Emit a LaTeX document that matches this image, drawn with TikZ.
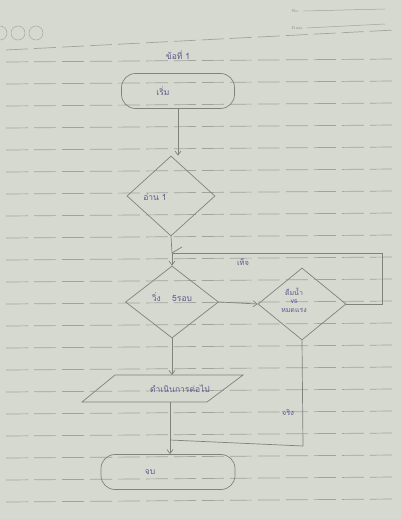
\documentclass[tikz,border=0pt]{standalone}
\usepackage{fontspec}
\newfontfamily\thaifont[Script=Thai]{Loma}
\usetikzlibrary{shapes.geometric,arrows.meta}
\definecolor{paper}{RGB}{214,217,208}
\definecolor{rule}{RGB}{160,164,156}
\definecolor{pencil}{RGB}{128,130,126}
\definecolor{ink}{RGB}{88,92,140}
\begin{document}
\begin{tikzpicture}[x=1pt,y=-1pt,
  flow/.style={draw=pencil,line width=0.7pt},
  arr/.style={flow,-{Straight Barb[length=4pt,width=6pt]}},
  term/.style={draw=pencil,line width=0.7pt,rounded corners=14pt,minimum height=35pt},
  dec/.style={draw=pencil,line width=0.7pt,diamond,aspect=1.2,inner sep=0pt},
  txt/.style={text=ink,font=\thaifont\fontsize{8.5}{9.5}\selectfont,inner sep=1pt},
  lbl/.style={text=ink,font=\thaifont\fontsize{7.5}{8.5}\selectfont,inner sep=1pt}]
\useasboundingbox (0,0) rectangle (401,519);
\fill[paper] (0,0) rectangle (401,519);
% ruled paper
\foreach \y in {62,84,106,128,150,172,194,216,238,260,282,304,326,348,370,392,414,436,458,480,502}
  \draw[rule,line width=0.7pt,dash pattern=on 22pt off 6pt] (6,\y) -- (395,\y-3);
\draw[rule,line width=0.7pt,dash pattern=on 22pt off 6pt] (6,50) -- (395,30);
\draw[pencil!70,line width=0.5pt] (0,33) circle (7) (18,33) circle (7) (36,33) circle (7);
\node[font=\fontsize{4}{4}\selectfont,text=pencil,anchor=west] (no) at (288,11) {No.};
\node[font=\fontsize{4}{4}\selectfont,text=pencil,anchor=west] (date) at (288,28) {Date};
\draw[rule,line width=0.5pt] (no.east) -- (385,9);
\draw[rule,line width=0.5pt] (date.east) -- (385,24);
% title
\node[txt] (title) at (178,55) {ข้อที่ 1};
% shapes
\node[term,minimum width=113pt] (start) at (178,91) {};
\node[txt] at (163,91) {เริ่ม};
\node[dec,minimum width=88pt,minimum height=80pt] (d1) at (171,196) {};
\node[txt] at (155,197) {อ่าน 1};
\coordinate (j1) at (172,253);
\node[dec,minimum width=93pt,minimum height=72pt] (d2) at (172,302) {};
\node[txt] at (172,297) {วิ่ง \quad 5รอบ};
\node[dec,minimum width=88pt,minimum height=72pt] (d3) at (302,304) {};
\node[txt,align=center,font=\thaifont\fontsize{7}{8.5}\selectfont] at (294,300) {ดื่มน้ำ\\vs\\หมดแรง};
\draw[flow] (115,375) -- (243,375) -- (207,402) -- (82,402) -- cycle;
\coordinate (iotop) at (172,375);
\coordinate (iobot) at (170,402);
\node[txt] at (180,389) {ดำเนินการต่อไป};
\coordinate (j2) at (170,440);
\node[term,minimum width=134pt] (stop) at (168,472) {};
\node[txt] at (150,472) {จบ};
% connectors
\draw[arr] (start.south) -- (start.south |- d1.north);
\draw[flow] (d1.south) -- (j1);
\draw[arr] (j1) -- (d2.north);
\draw[arr] (d2.east) -- (d3.west);
\draw[flow] (d3.east) -- (382,304) -- (382,253) -- (j1);
\draw[flow] (j1) -- ++(10,-6);
\node[lbl] at (243,262) {เท็จ};
\draw[arr] (d2.south) -- (iotop);
\draw[flow] (iobot) -- (j2);
\draw[flow] (d3.south) -- (303,446) -- (j2);
\node[lbl] at (288,413) {จริง};
\draw[arr] (j2) -- (stop.north -| j2);
\end{tikzpicture}
\end{document}
